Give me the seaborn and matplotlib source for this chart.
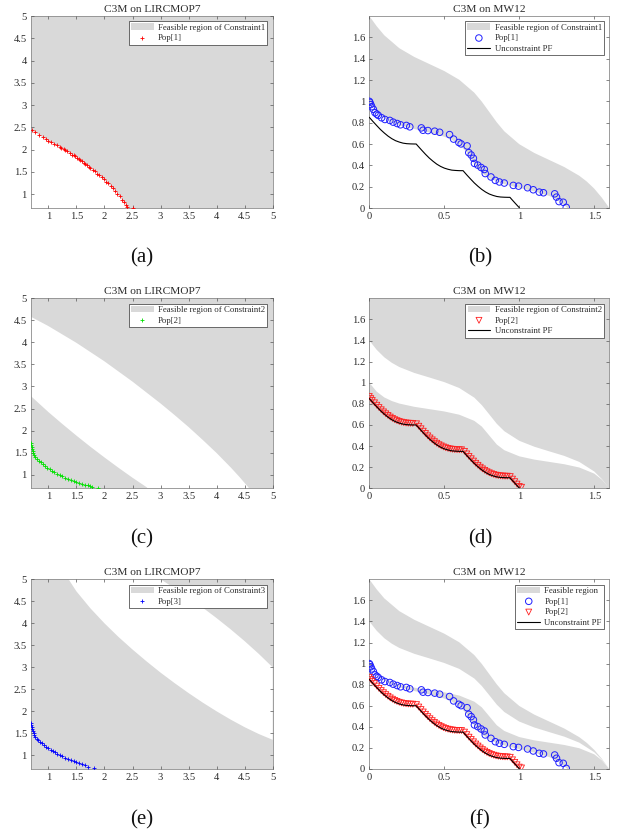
import matplotlib
matplotlib.use("Agg")  # headless
import matplotlib.pyplot as plt
import seaborn as sns

# ---------------------------------------------------------------------------
# LIRCMOP7 (left column)
# ---------------------------------------------------------------------------
lir_lim = (0.69, 5.0)
lir_ticks = [1, 1.5, 2, 2.5, 3, 3.5, 4, 4.5, 5]
lir_ticklabels = ["1", "1.5", "2", "2.5", "3", "3.5", "4", "4.5", "5"]

# boundary of constraint 1 (infeasible area lies below-left)
c1_x = [0.69, 0.8, 0.9, 1.0, 1.1, 1.2, 1.3, 1.4, 1.5, 1.6, 1.7, 1.8, 1.9, 2.0,
        2.1, 2.2, 2.3, 2.36, 2.42]
c1_y = [2.44, 2.36, 2.28, 2.2, 2.13, 2.06, 1.99, 1.91, 1.83, 1.74, 1.64, 1.54,
        1.43, 1.32, 1.2, 1.06, 0.9, 0.8, 0.69]

# constraint 2: infeasible band between inner and outer arc
c2o_x = [0.69, 1.0, 1.5, 2.0, 2.5, 3.0, 3.25, 3.5, 3.75, 4.0, 4.25, 4.4, 4.55, 4.58]
c2o_y = [4.58, 4.37, 3.99, 3.57, 3.11, 2.615, 2.352, 2.08, 1.79, 1.49, 1.165,
         0.958, 0.737, 0.69]
c2i_x = [0.69, 1.0, 1.25, 1.5, 1.75, 2.0, 2.25, 2.5, 2.75, 2.77]
c2i_y = [2.78, 2.42, 2.148, 1.885, 1.632, 1.39, 1.156, 0.93, 0.716, 0.69]

# constraint 3: infeasible band between inner and outer arc
c3i_x = [1.36, 1.5, 1.75, 2.0, 2.25, 2.5, 2.75, 3.0, 3.25, 3.5, 3.75, 4.0, 4.25,
         4.5, 4.75, 5.0]
c3i_y = [5.0, 4.726, 4.34, 4.0, 3.69, 3.405, 3.136, 2.88, 2.642, 2.415, 2.201,
         2.0, 1.813, 1.64, 1.486, 1.353]
c3o_x = [3.0, 3.25, 3.5, 3.75, 4.0, 4.25, 4.5, 4.75, 5.0]
c3o_y = [5.0, 4.799, 4.585, 4.358, 4.118, 3.864, 3.595, 3.308, 3.0]

lir_pop1_x = [0.70, 0.76, 0.84, 0.90, 0.95, 1.00, 1.05, 1.10, 1.15, 1.20, 1.23,
              1.27, 1.30, 1.34, 1.38, 1.42, 1.45, 1.48, 1.51, 1.54, 1.57, 1.60,
              1.63, 1.66, 1.69, 1.72, 1.75, 1.79, 1.83, 1.87, 1.91, 1.95, 1.99,
              2.03, 2.07, 2.11, 2.15, 2.19, 2.23, 2.27, 2.31, 2.35, 2.38, 2.41, 2.50]
lir_pop1_y = [2.43, 2.40, 2.33, 2.28, 2.25, 2.20, 2.17, 2.13, 2.10, 2.06, 2.04,
              2.01, 1.99, 1.96, 1.93, 1.89, 1.87, 1.85, 1.82, 1.79, 1.77, 1.74,
              1.71, 1.68, 1.65, 1.62, 1.59, 1.55, 1.51, 1.46, 1.42, 1.38, 1.33,
              1.28, 1.24, 1.19, 1.13, 1.07, 1.01, 0.95, 0.88, 0.82, 0.76, 0.71, 0.70]

lir_pop2_x = [0.69, 0.695, 0.70, 0.71, 0.72, 0.73, 0.75, 0.77, 0.80, 0.83, 0.86,
              0.90, 0.94, 0.98, 1.02, 1.06, 1.10, 1.15, 1.20, 1.25, 1.30, 1.35,
              1.40, 1.45, 1.50, 1.55, 1.60, 1.65, 1.70, 1.74, 1.78, 1.88]
lir_pop2_y = [1.72, 1.68, 1.63, 1.58, 1.54, 1.50, 1.45, 1.41, 1.36, 1.32, 1.285,
              1.24, 1.20, 1.16, 1.12, 1.09, 1.06, 1.02, 0.99, 0.96, 0.93, 0.905,
              0.88, 0.86, 0.835, 0.815, 0.795, 0.775, 0.755, 0.735, 0.715, 0.70]

lir_pop3_x = [0.69, 0.695, 0.70, 0.71, 0.72, 0.735, 0.75, 0.77, 0.79, 0.82, 0.85,
              0.88, 0.92, 0.96, 1.00, 1.04, 1.08, 1.12, 1.16, 1.20, 1.25, 1.30,
              1.35, 1.40, 1.45, 1.50, 1.55, 1.60, 1.65, 1.70, 1.81]
lir_pop3_y = [1.73, 1.69, 1.64, 1.59, 1.55, 1.50, 1.46, 1.42, 1.38, 1.34, 1.30,
              1.27, 1.23, 1.19, 1.16, 1.13, 1.10, 1.07, 1.04, 1.01, 0.98, 0.95,
              0.92, 0.895, 0.87, 0.845, 0.82, 0.795, 0.77, 0.745, 0.72]

# ---------------------------------------------------------------------------
# MW12 (right column)
# ---------------------------------------------------------------------------
mw_xlim = (0, 1.6)
mw_ylim = (0, 1.8)
mw_xticks = [0, 0.5, 1, 1.5]
mw_xticklabels = ["0", "0.5", "1", "1.5"]
mw_yticks = [0, 0.2, 0.4, 0.6, 0.8, 1, 1.2, 1.4, 1.6]
mw_yticklabels = ["0", "0.2", "0.4", "0.6", "0.8", "1", "1.2", "1.4", "1.6"]

# constraint 1 boundaries (feasible between lower l1 and upper u1)
l1_x = [0, 0.05, 0.1, 0.15, 0.2, 0.3, 0.4, 0.45, 0.5, 0.55, 0.6, 0.65, 0.7, 0.75,
        0.8, 0.85, 0.9, 0.95, 1.0, 1.1, 1.2, 1.25, 1.3, 1.32]
l1_y = [1.0, 0.899, 0.841, 0.803, 0.777, 0.740, 0.709, 0.691, 0.668, 0.64, 0.595,
        0.523, 0.413, 0.329, 0.28, 0.248, 0.224, 0.205, 0.188, 0.156, 0.113, 0.08,
        0.03, 0.0]
u1_x = [0, 0.05, 0.1, 0.2, 0.3, 0.4, 0.5, 0.6, 0.7, 0.75, 0.8, 0.85, 0.9, 1.0,
        1.1, 1.2, 1.3, 1.4, 1.45, 1.5, 1.55, 1.6]
u1_y = [1.8, 1.703, 1.619, 1.498, 1.416, 1.35, 1.284, 1.202, 1.081, 0.997, 0.9,
        0.803, 0.719, 0.598, 0.516, 0.45, 0.384, 0.302, 0.248, 0.181, 0.097, 0.0]

# constraint 2 boundaries (infeasible between lower l2 and upper u2)
l2_x = [0, 0.05, 0.1, 0.15, 0.2, 0.3, 0.4, 0.5, 0.6, 0.7, 0.75, 0.8, 0.85, 0.9,
        1.0, 1.1, 1.2, 1.3, 1.4, 1.5, 1.55, 1.6]
l2_y = [1.0, 0.915, 0.861, 0.827, 0.803, 0.772, 0.75, 0.728, 0.697, 0.639, 0.585,
        0.5, 0.415, 0.361, 0.303, 0.272, 0.25, 0.228, 0.197, 0.139, 0.083, 0.0]
u2_x = [0, 0.05, 0.1, 0.15, 0.2, 0.3, 0.4, 0.5, 0.6, 0.7, 0.75, 0.8, 0.85, 0.9,
        1.0, 1.1, 1.2, 1.3, 1.4, 1.5, 1.55, 1.6]
u2_y = [1.4, 1.311, 1.241, 1.189, 1.149, 1.093, 1.05, 1.006, 0.95, 0.859, 0.788,
        0.7, 0.611, 0.541, 0.45, 0.394, 0.35, 0.307, 0.25, 0.159, 0.088, 0.0]

# unconstrained Pareto front
pf_x = [0, 0.025, 0.05, 0.075, 0.1, 0.125, 0.15, 0.175, 0.2, 0.225, 0.25, 0.275,
        0.3, 0.3125, 0.325, 0.35, 0.375, 0.4, 0.425, 0.45, 0.475, 0.5, 0.525,
        0.55, 0.575, 0.6, 0.625, 0.65, 0.675, 0.7, 0.725, 0.75, 0.775, 0.8,
        0.825, 0.85, 0.875, 0.9, 0.925, 0.9375, 0.95, 0.975, 1.0]
pf_y = [0.85, 0.810, 0.772, 0.735, 0.703, 0.674, 0.650, 0.631, 0.618, 0.608,
        0.603, 0.601, 0.600, 0.600, 0.580, 0.541, 0.503, 0.468, 0.438, 0.411,
        0.390, 0.374, 0.363, 0.355, 0.352, 0.350, 0.350, 0.310, 0.272, 0.235,
        0.203, 0.174, 0.150, 0.131, 0.118, 0.108, 0.103, 0.101, 0.100, 0.100,
        0.080, 0.041, 0.003]

mw_pop1_x = [0.0, 0.004, 0.01, 0.016, 0.027, 0.038, 0.05, 0.06, 0.082, 0.104,
             0.137, 0.159, 0.186, 0.208, 0.247, 0.27, 0.347, 0.358, 0.391, 0.436,
             0.469, 0.535, 0.562, 0.597, 0.612, 0.652, 0.663, 0.679, 0.694, 0.701,
             0.723, 0.745, 0.767, 0.773, 0.811, 0.84, 0.867, 0.9, 0.96, 0.995,
             1.055, 1.093, 1.133, 1.161, 1.236, 1.248, 1.265, 1.293, 1.313]
mw_pop1_y = [1.0, 0.99, 0.97, 0.95, 0.925, 0.893, 0.88, 0.868, 0.846, 0.83,
             0.821, 0.805, 0.792, 0.78, 0.774, 0.761, 0.751, 0.729, 0.726, 0.72,
             0.71, 0.688, 0.646, 0.614, 0.601, 0.582, 0.519, 0.497, 0.466, 0.418,
             0.402, 0.38, 0.361, 0.323, 0.291, 0.259, 0.244, 0.234, 0.212, 0.205,
             0.19, 0.171, 0.149, 0.143, 0.133, 0.102, 0.06, 0.054, 0.006]

mw_pop2_x = [0.0, 0.01, 0.02, 0.035, 0.05, 0.065, 0.08, 0.095, 0.11, 0.125, 0.14,
             0.155, 0.17, 0.185, 0.2, 0.215, 0.23, 0.245, 0.26, 0.275, 0.29, 0.315,
             0.33, 0.345, 0.36, 0.375, 0.39, 0.405, 0.42, 0.435, 0.45, 0.465, 0.48,
             0.495, 0.51, 0.525, 0.54, 0.555, 0.57, 0.585, 0.6, 0.615, 0.635, 0.65,
             0.665, 0.68, 0.695, 0.71, 0.725, 0.74, 0.755, 0.77, 0.785, 0.8, 0.815,
             0.83, 0.845, 0.86, 0.875, 0.89, 0.905, 0.92, 0.94, 0.955, 0.97, 0.985,
             1.0, 1.015]
mw_pop2_y = [0.87, 0.85, 0.832, 0.81, 0.787, 0.765, 0.744, 0.724, 0.706, 0.69,
             0.675, 0.662, 0.65, 0.641, 0.633, 0.627, 0.622, 0.619, 0.617, 0.616,
             0.615, 0.611, 0.588, 0.564, 0.541, 0.519, 0.497, 0.477, 0.459, 0.442,
             0.427, 0.413, 0.402, 0.392, 0.384, 0.378, 0.373, 0.37, 0.367, 0.366,
             0.365, 0.365, 0.35, 0.326, 0.302, 0.28, 0.258, 0.237, 0.218, 0.2,
             0.184, 0.17, 0.157, 0.147, 0.138, 0.131, 0.125, 0.121, 0.118, 0.116,
             0.115, 0.115, 0.111, 0.087, 0.063, 0.04, 0.018, 0.01]

GRAY = "#d9d9d9"
TXT = "#2b2b2b"
W, H = 618, 836

sns.set_theme(style="ticks")
plt.rcParams["font.family"] = ["Liberation Serif", "DejaVu Serif"]

fig = plt.figure(figsize=(W / 100, H / 100), dpi=100)


def add_ax(left, top, right, bottom):
    return fig.add_axes([left / W, 1 - bottom / H, (right - left) / W, (bottom - top) / H])


def finish(ax, xlim, ylim, xt, xtl, yt, ytl, title):
    ax.set_axisbelow(False)
    ax.set_xlim(*xlim)
    ax.set_ylim(*ylim)
    ax.set_xticks(xt)
    ax.set_xticklabels(xtl)
    ax.set_yticks(yt)
    ax.set_yticklabels(ytl)
    ax.set_xlabel("")
    ax.set_ylabel("")
    ax.tick_params(direction="in", length=2.5, width=0.5, top=True, right=True,
                   labelsize=7.6, colors="#555555", labelcolor=TXT, pad=3)
    for s in ax.spines.values():
        s.set_visible(True)
        s.set_color("#8c8c8c")
        s.set_linewidth(0.6)
    ax.set_title(title, fontsize=8.2, color=TXT, pad=3)
    leg = ax.legend(loc="upper right", fontsize=6.3, frameon=True, fancybox=False,
                    framealpha=1, edgecolor="#333333", borderaxespad=0.6,
                    borderpad=0.25, labelspacing=0.3, handlelength=2.6,
                    handletextpad=0.5)
    leg.get_frame().set_linewidth(0.5)
    for t in leg.get_texts():
        t.set_color(TXT)


def lir_panel(ax, label, pop_x, pop_y, pop_label, color):
    ax.axvspan(lir_lim[0], lir_lim[1], color=GRAY, lw=0, label=label, zorder=1)
    sns.scatterplot(x=pop_x, y=pop_y, marker="+", color=color, s=9, linewidth=0.6,
                    label=pop_label, ax=ax, zorder=3)


# (a)
ax = add_ax(31, 16, 272.7, 208)
lir_panel(ax, "Feasible region of Constraint1", lir_pop1_x, lir_pop1_y, "Pop[1]", "#ff0000")
ax.fill(c1_x + [lir_lim[0]], c1_y + [lir_lim[0]], color="white", lw=0, zorder=1.5)
finish(ax, lir_lim, lir_lim, lir_ticks, lir_ticklabels, lir_ticks, lir_ticklabels,
       "C3M on LIRCMOP7")

# (c)
ax = add_ax(31, 298.3, 272.7, 488.3)
lir_panel(ax, "Feasible region of Constraint2", lir_pop2_x, lir_pop2_y, "Pop[2]", "#00e000")
ax.fill(c2o_x + c2i_x[::-1], c2o_y + c2i_y[::-1], color="white", lw=0, zorder=1.5)
finish(ax, lir_lim, lir_lim, lir_ticks, lir_ticklabels, lir_ticks, lir_ticklabels,
       "C3M on LIRCMOP7")

# (e)
ax = add_ax(31, 579.3, 272.7, 769)
lir_panel(ax, "Feasible region of Constraint3", lir_pop3_x, lir_pop3_y, "Pop[3]", "#0000ff")
ax.fill(c3i_x + c3o_x[::-1], c3i_y + c3o_y[::-1], color="white", lw=0, zorder=1.5)
finish(ax, lir_lim, lir_lim, lir_ticks, lir_ticklabels, lir_ticks, lir_ticklabels,
       "C3M on LIRCMOP7")


def pop1(ax):
    sns.scatterplot(x=mw_pop1_x, y=mw_pop1_y, marker="o", color="#0000ff",
                    facecolor="none", edgecolor="#2020ff", s=22, linewidth=0.7,
                    label="Pop[1]", ax=ax, zorder=3)


def pop2(ax):
    sns.scatterplot(x=mw_pop2_x, y=mw_pop2_y, marker="v", color="#ff0000",
                    facecolor="none", edgecolor="#ff2020", s=18, linewidth=0.6,
                    label="Pop[2]", ax=ax, zorder=3)


def pf(ax):
    sns.lineplot(x=pf_x, y=pf_y, color="black", linewidth=0.8, sort=False,
                 estimator=None, label="Unconstraint PF", ax=ax, zorder=4)


# (b)
ax = add_ax(369.3, 16, 609.3, 208)
ax.fill(u1_x + l1_x[::-1], u1_y + l1_y[::-1], color=GRAY, lw=0, zorder=1,
        label="Feasible region of Constraint1")
pop1(ax)
pf(ax)
finish(ax, mw_xlim, mw_ylim, mw_xticks, mw_xticklabels, mw_yticks, mw_yticklabels,
       "C3M on MW12")

# (d)
ax = add_ax(369.3, 298.3, 609.3, 488.3)
ax.axvspan(mw_xlim[0], mw_xlim[1], color=GRAY, lw=0, zorder=1,
           label="Feasible region of Constraint2")
ax.fill(u2_x + l2_x[::-1], u2_y + l2_y[::-1], color="white", lw=0, zorder=1.5)
pop2(ax)
pf(ax)
finish(ax, mw_xlim, mw_ylim, mw_xticks, mw_xticklabels, mw_yticks, mw_yticklabels,
       "C3M on MW12")

# (f)
ax = add_ax(369.3, 579.3, 609.3, 769)
ax.fill(u1_x + u2_x[::-1], u1_y + u2_y[::-1], color=GRAY, lw=0, zorder=1,
        label="Feasible region")
ax.fill(l2_x + l1_x[::-1], l2_y + l1_y[::-1], color=GRAY, lw=0, zorder=1)
pop1(ax)
pop2(ax)
pf(ax)
finish(ax, mw_xlim, mw_ylim, mw_xticks, mw_xticklabels, mw_yticks, mw_yticklabels,
       "C3M on MW12")

# sub-figure labels
for lab, cx, cy in [("(a)", 141.7, 258), ("(b)", 480, 258), ("(c)", 141.7, 539),
                    ("(d)", 480, 539), ("(e)", 141.7, 820), ("(f)", 480, 820)]:
    fig.text(cx / W, 1 - cy / H, lab, fontsize=15, color="#111111",
             ha="center", va="center")

fig.savefig("out.png", dpi=100)
plt.close(fig)
